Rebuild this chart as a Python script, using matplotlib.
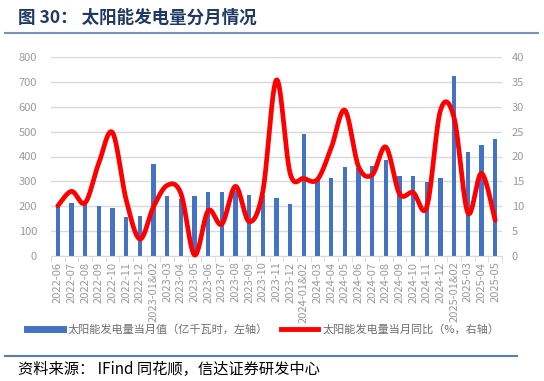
import numpy as np
import matplotlib
matplotlib.use('Agg')
import matplotlib.pyplot as plt
from matplotlib.lines import Line2D
from matplotlib.ticker import MultipleLocator

plt.rcParams['font.family'] = ['Noto Sans CJK SC', 'DejaVu Sans']

categories = ['2022-06', '2022-07', '2022-08', '2022-09', '2022-10', '2022-11', '2022-12',
              '2023-01&02', '2023-03', '2023-04', '2023-05', '2023-06', '2023-07', '2023-08',
              '2023-09', '2023-10', '2023-11', '2023-12', '2024-01&02', '2024-03', '2024-04',
              '2024-05', '2024-06', '2024-07', '2024-08', '2024-09', '2024-10', '2024-11',
              '2024-12', '2025-01&02', '2025-03', '2025-04', '2025-05']
generation = [200, 212, 208, 203, 191, 158, 162, 370, 243, 230, 242, 259, 259, 262,
              247, 246, 235, 211, 490, 308, 315, 358, 352, 360, 387, 323, 323, 298,
              315, 723, 417, 447, 471]
yoy = [10.1, 13.0, 10.7, 18.7, 24.8, 11.3, 3.4, 9.9, 14.2, 12.6, 0.2, 9.1, 6.4, 14.0,
       6.9, 13.0, 35.4, 16.6, 15.6, 15.4, 21.7, 29.3, 18.0, 16.3, 21.9, 12.5, 12.75, 9.9,
       29.3, 27.7, 8.7, 16.6, 7.2]

label_bar = '太阳能发电量当月值（亿千瓦时，左轴）'
label_line = '太阳能发电量当月同比（%，右轴）'
title = '图 30： 太阳能发电量分月情况'
source = '资料来源： IFind 同花顺，信达证券研发中心'


def smooth(xs, ys, n=30):
    xs = np.asarray(xs, float)
    ys = np.asarray(ys, float)
    P = np.column_stack([xs, ys])
    P = np.vstack([P[0], P, P[-1]])
    out = []
    t = np.linspace(0, 1, n)[:, None]
    for i in range(1, len(P) - 2):
        p0, p1, p2, p3 = P[i - 1], P[i], P[i + 1], P[i + 2]
        c1 = p1 + (p2 - p0) / 6.0
        c2 = p2 - (p3 - p1) / 6.0
        seg = ((1 - t) ** 3) * p1 + 3 * ((1 - t) ** 2) * t * c1 + 3 * (1 - t) * t ** 2 * c2 + t ** 3 * p2
        out.append(seg if i == 1 else seg[1:])
    out = np.vstack(out)
    return out[:, 0], out[:, 1]


W, H = 544, 381
tick_color = '#9a9a9a'
fig = plt.figure(figsize=(W / 100, H / 100), dpi=100)
ax = fig.add_axes([51 / W, 1 - 256 / H, 451 / W, 199 / H])
x = np.arange(len(categories))
ax.bar(x, generation, width=0.33, color='#4472C4', zorder=2)
ax.set_xlim(-0.5, len(categories) - 0.5)
ax.set_ylim(0, 800)
ax.yaxis.set_major_locator(MultipleLocator(100))
ax.grid(axis='y', color='#d9d9d9', linewidth=1)
ax.set_axisbelow(True)
for s in ['top', 'right', 'left']:
    ax.spines[s].set_visible(False)
ax.spines['bottom'].set_color('#d9d9d9')
ax.set_xticks(x)
ax.set_xticklabels(categories, rotation=90, fontsize=8, color=tick_color)
ax.tick_params(axis='x', which='major', length=0, pad=4)
ax.set_xticks(np.arange(-0.5, len(categories)), minor=True)
ax.tick_params(axis='x', which='minor', length=4, color='#d9d9d9')
ax.tick_params(axis='y', length=0, labelsize=8, labelcolor=tick_color, pad=10)

ax2 = ax.twinx()
ax2.set_ylim(0, 40)
ax2.yaxis.set_major_locator(MultipleLocator(5))
for s in ['top', 'right', 'left', 'bottom']:
    ax2.spines[s].set_visible(False)
ax2.tick_params(axis='y', length=0, labelsize=8, labelcolor=tick_color, pad=7)
sx, sy = smooth(x, yoy)
ax2.plot(sx, sy, color='#FF0000', lw=3.4, solid_capstyle='round', clip_on=False)

fig.text(18 / W, 1 - 18 / H, title, fontsize=12.6, fontweight='bold', color='#1f3864', va='center')
fig.add_artist(Line2D([5 / W, 538 / W], [1 - 33 / H] * 2, color='#7793bd', lw=1.5,
                      transform=fig.transFigure))
fig.add_artist(Line2D([5 / W, 517 / W], [1 - 356 / H] * 2, color='#5a7db0', lw=1.5,
                      transform=fig.transFigure))
fig.text(18 / W, 1 - 369 / H, source, fontsize=11, style='italic', color='black', va='center')

handles = [Line2D([], [], color='#4472C4', lw=5), Line2D([], [], color='#FF0000', lw=3.5)]
fig.legend(handles, [label_bar, label_line], loc='center', bbox_to_anchor=(263 / W, 1 - 329 / H),
           ncol=2, frameon=False, fontsize=8, handlelength=3.3, columnspacing=1.2,
           handletextpad=0.4, labelcolor='#6e6e6e')

fig.savefig('out.png', dpi=100)
